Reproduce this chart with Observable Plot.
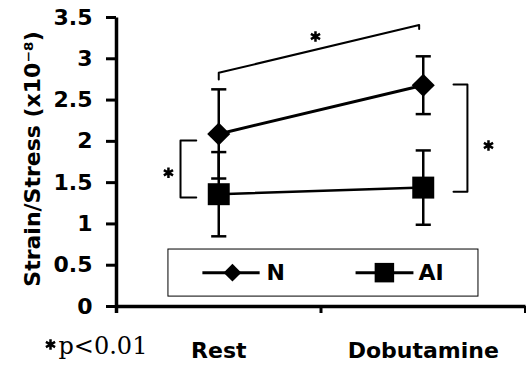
<!DOCTYPE html>
<html>
<head>
<meta charset="utf-8">
<script src="https://cdn.jsdelivr.net/npm/d3@7"></script>
<script src="https://cdn.jsdelivr.net/npm/@observablehq/plot@0.6"></script>
<style>
  html, body { margin: 0; padding: 0; background: white; }
</style>
</head>
<body>
<div id="chart"></div>
<script>
// ---- data ----
const categories = ["Rest", "Dobutamine"];
const catX = [0.5, 1.5];           // band centres on a 0..2 axis
const nMean = [2.09, 2.68];
const nErr = [0.54, 0.35];
const aiMean = [1.36, 1.44];
const aiErr = [0.51, 0.45];
const yTicks = [0, 0.5, 1, 1.5, 2, 2.5, 3, 3.5];

// significance annotations (data coordinates)
const bracketTop = [[0.5, 2.75], [0.5, 2.83], [1.48, 3.41], [1.48, 3.36]];
const bracketLeft = [[0.39, 2.01], [0.313, 2.01], [0.313, 1.32], [0.39, 1.32]];
const bracketRight = [[1.648, 2.69], [1.716, 2.69], [1.716, 1.39], [1.648, 1.39]];
const stars = [[0.973, 3.27], [0.254, 1.62], [1.819, 1.95]];

// legend (data coordinates)
const legendBox = {x1: 0.254, x2: 1.77, y1: 0.12, y2: 0.69};
const legendN = {label: "N", x1: 0.42, x2: 0.70, xm: 0.567, tx: 0.733, y: 0.41};
const legendAI = {label: "AI", x1: 1.169, x2: 1.452, xm: 1.31, tx: 1.477, y: 0.41};

const N = categories.map((c, i) => ({x: catX[i], y: nMean[i], lo: nMean[i] - nErr[i], hi: nMean[i] + nErr[i]}));
const AI = categories.map((c, i) => ({x: catX[i], y: aiMean[i], lo: aiMean[i] - aiErr[i], hi: aiMean[i] + aiErr[i]}));
const cap = 0.037;
const caps = [...N, ...AI].flatMap(d => [{x1: d.x - cap, x2: d.x + cap, y: d.hi}, {x1: d.x - cap, x2: d.x + cap, y: d.lo}]);

const bold = {fontFamily: "DejaVu Sans", fontWeight: "bold"};

const chart = Plot.plot({
  width: 526,
  height: 366,
  marginLeft: 116,
  marginRight: 1,
  marginTop: 17,
  marginBottom: 60,
  style: {fontFamily: "DejaVu Sans", background: "white", color: "black", overflow: "visible"},
  x: {domain: [0, 2], axis: null},
  y: {domain: [0, 3.5], axis: null},
  marks: [
    // axes
    Plot.axisY({ticks: yTicks, tickFormat: d => String(d), tickSize: 10, tickPadding: 14, strokeWidth: 3,
      fontSize: 22, fontWeight: "bold", fontFamily: "DejaVu Sans", anchor: "left"}),
    Plot.axisX({ticks: [1, 2], tickFormat: () => "", tickSize: 7, strokeWidth: 3, anchor: "bottom"}),
    Plot.axisX({ticks: catX, tickFormat: (d, i) => categories[i], tickSize: 0, tickPadding: 36,
      fontSize: 22, fontWeight: "bold", fontFamily: "DejaVu Sans", anchor: "bottom"}),
    Plot.link([0], {x1: 0, x2: 0, y1: -0.08, y2: 3.5, stroke: "black", strokeWidth: 3.5, clip: false}),
    Plot.link([0], {x1: 0, x2: 2, y1: 0, y2: 0, stroke: "black", strokeWidth: 3.5}),
    // y title
    Plot.text(["Strain/Stress (x10\u207B\u2078)"], {frameAnchor: "left", dx: -84, dy: -3, rotate: -90,
      fontSize: 22, ...bold, textAnchor: "middle", lineAnchor: "middle"}),
    // footnote
    Plot.dot([0], {frameAnchor: "bottom-left", dx: -66, dy: 38, symbol: "asterisk", r: 5, stroke: "black", strokeWidth: 2.5}),
    Plot.text(["p<0.01"], {frameAnchor: "bottom-left", dx: -58, dy: 47, textAnchor: "start", lineAnchor: "bottom",
      fontSize: 24, fontFamily: "DejaVu Serif"}),
    // legend
    Plot.rect([legendBox], {x1: "x1", x2: "x2", y1: "y1", y2: "y2", fill: "white", stroke: "black", strokeWidth: 1}),
    Plot.link([legendN, legendAI], {x1: "x1", x2: "x2", y1: "y", y2: "y", stroke: "black", strokeWidth: 3}),
    Plot.dot([legendN], {x: "xm", y: "y", symbol: "diamond2", r: 8, fill: "black", stroke: "none"}),
    Plot.dot([legendAI], {x: "xm", y: "y", symbol: "square", r: 11, fill: "black", stroke: "none"}),
    Plot.text([legendN, legendAI], {x: "tx", y: "y", text: "label", textAnchor: "start", lineAnchor: "middle", fontSize: 22, ...bold}),
    // brackets & stars
    Plot.line(bracketTop, {x: d => d[0], y: d => d[1], stroke: "black", strokeWidth: 2}),
    Plot.line(bracketLeft, {x: d => d[0], y: d => d[1], stroke: "black", strokeWidth: 2}),
    Plot.line(bracketRight, {x: d => d[0], y: d => d[1], stroke: "black", strokeWidth: 2}),
    Plot.dot(stars, {x: d => d[0], y: d => d[1], symbol: "asterisk", r: 5, stroke: "black", strokeWidth: 2.5}),
    // error bars
    Plot.link([...N, ...AI], {x1: "x", x2: "x", y1: "lo", y2: "hi", stroke: "black", strokeWidth: 2.5}),
    Plot.link(caps, {x1: "x1", x2: "x2", y1: "y", y2: "y", stroke: "black", strokeWidth: 2.5}),
    // series
    Plot.line(N, {x: "x", y: "y", stroke: "black", strokeWidth: 3}),
    Plot.line(AI, {x: "x", y: "y", stroke: "black", strokeWidth: 2.5}),
    Plot.dot(N, {x: "x", y: "y", symbol: "diamond2", r: 10.4, fill: "black", stroke: "none"}),
    Plot.dot(AI, {x: "x", y: "y", symbol: "square", r: 12.4, fill: "black", stroke: "none"})
  ]
});
document.getElementById("chart").appendChild(chart);
</script>
</body>
</html>
